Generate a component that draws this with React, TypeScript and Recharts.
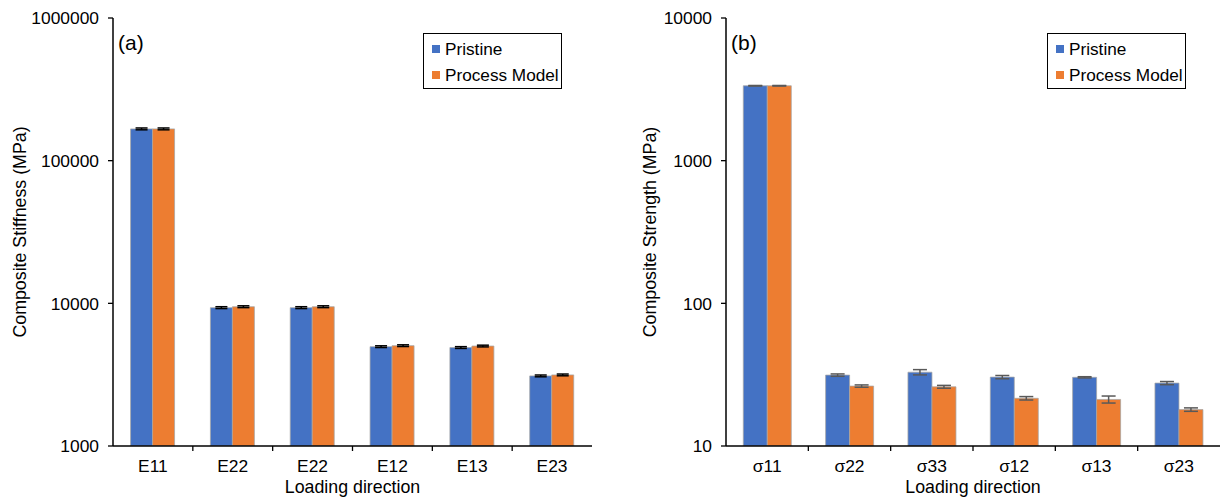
import { Bar, BarChart, ErrorBar, Legend, ReferenceArea, XAxis, YAxis } from "recharts";

// (a) stiffness, MPa
const stiffCats = ["E11", "E22", "E22", "E12", "E13", "E23"];
const stiffPristine = [167000, 9330, 9330, 4970, 4900, 3100];
const stiffPristineErr = [2500, 140, 140, 70, 70, 45];
const stiffProcess = [167000, 9470, 9470, 5050, 5020, 3150];
const stiffProcessErr = [2500, 140, 140, 70, 70, 45];
const stiffTicks = [1000, 10000, 100000, 1000000];

// (b) strength, MPa
const strCats = ["σ11", "σ22", "σ33", "σ12", "σ13", "σ23"];
const strPristine = [3350, 31.4, 32.9, 30.4, 30.3, 27.6];
const strPristineErr = [15, 0.6, 1.4, 0.8, 0.3, 0.7];
const strProcess = [3350, 26.3, 26.0, 21.6, 21.2, 18.0];
const strProcessErr = [15, 0.5, 0.6, 0.6, 1.2, 0.5];
const strTicks = [10, 100, 1000, 10000];

const FONT = "'Liberation Sans', Arial, sans-serif";
const BLUE = "#4472C4";
const ORANGE = "#ED7D31";
const W = 612;
const H = 500;
const TICK_FS = 17.4;
const LABEL_FS = 17.8;

function rowsOf(cats: string[], a: number[], aErr: number[], b: number[], bErr: number[]) {
  return cats.map((c, i) => ({ cat: c, pristine: a[i], pErr: aErr[i], process: b[i], qErr: bErr[i] }));
}

function BandTick(props: any) {
  const { x, y, payload, index, band } = props;
  return (
    <g>
      {index > 0 && (
        <line x1={x - band / 2} x2={x - band / 2} y1={y - 14} y2={y - 9} stroke="#000" strokeWidth={1.3} />
      )}
      <text x={x} y={y} dy="0.71em" textAnchor="middle" fill="#000" fontSize={TICK_FS} fontFamily={FONT}>
        {payload.value}
      </text>
    </g>
  );
}

function LegendBox(props: any) {
  const items = props.payload ?? [];
  return (
    <div
      style={{
        boxSizing: "border-box",
        width: 139,
        height: 56,
        border: "1px solid #000",
        background: "#fff",
        padding: "2px 0 0 8px",
        fontFamily: FONT,
        fontSize: 17.2,
        color: "#000",
      }}
    >
      {items.map((it: any) => (
        <div key={it.value} style={{ height: 26, display: "flex", alignItems: "center" }}>
          <span style={{ width: 8, height: 8, background: it.color, marginRight: 5, display: "inline-block" }} />
          {it.value}
        </div>
      ))}
    </div>
  );
}

interface PanelProps {
  rows: ReturnType<typeof rowsOf>;
  ticks: number[];
  yLabel: string;
  tag: string;
  yAxisWidth: number;
  marginRight: number;
  yLabelX: number;
  legendLeft: number;
  errColor: string;
  errWidth: number;
  gap: string;
}

function Panel({ rows, ticks, yLabel, tag, yAxisWidth, marginRight, yLabelX, legendLeft, errColor, errWidth, gap }: PanelProps) {
  const band = (W - yAxisWidth - marginRight) / rows.length;
  return (
    <div style={{ position: "relative", width: W, height: H }}>
      <BarChart
        width={W}
        height={H}
        data={rows}
        margin={{ top: 18, right: marginRight, left: 0, bottom: 0 }}
        barCategoryGap={gap}
        barGap={0}
      >
        <XAxis
          dataKey="cat"
          height={54}
          axisLine={{ stroke: "#000", strokeWidth: 1.5 }}
          tickLine={{ stroke: "none" }}
          tickSize={5}
          tickMargin={9}
          interval={0}
          tick={<BandTick band={band} />}
          label={{
            value: "Loading direction",
            position: "insideBottom",
            offset: 7,
            fill: "#000",
            fontSize: LABEL_FS,
            fontFamily: FONT,
          }}
        />
        <YAxis
          scale="log"
          type="number"
          domain={[ticks[0], ticks[ticks.length - 1]]}
          ticks={ticks}
          allowDataOverflow
          width={yAxisWidth}
          axisLine={{ stroke: "#000", strokeWidth: 1.5 }}
          tickLine={{ stroke: "#000", strokeWidth: 1.3 }}
          tickSize={5}
          tickMargin={9}
          tick={{ fill: "#000", fontSize: TICK_FS, fontFamily: FONT }}
          label={{
            value: yLabel,
            angle: -90,
            position: "insideLeft",
            offset: yLabelX,
            fill: "#000",
            fontSize: LABEL_FS,
            fontFamily: FONT,
            style: { textAnchor: "middle" },
          }}
        />
        <ReferenceArea fill="none" stroke="#000" strokeWidth={1} ifOverflow="visible" />
        <Bar dataKey="pristine" name="Pristine" fill={BLUE} stroke="#a6a6a6" strokeWidth={0.75} isAnimationActive={false}>
          <ErrorBar dataKey="pErr" width={errWidth} stroke={errColor} strokeWidth={1.5} isAnimationActive={false} />
        </Bar>
        <Bar dataKey="process" name="Process Model" fill={ORANGE} stroke="#a6a6a6" strokeWidth={0.75} isAnimationActive={false}>
          <ErrorBar dataKey="qErr" width={errWidth} stroke={errColor} strokeWidth={1.5} isAnimationActive={false} />
        </Bar>
        <Legend
          layout="vertical"
          align="center"
          verticalAlign="middle"
          wrapperStyle={{ left: legendLeft, top: 33, width: 139 }}
          content={<LegendBox />}
        />
      </BarChart>
      <div
        style={{
          position: "absolute",
          left: yAxisWidth + 5,
          top: 31,
          fontFamily: FONT,
          fontSize: 21,
          lineHeight: "23px",
          color: "#000",
        }}
      >
        {tag}
      </div>
    </div>
  );
}

export default function App() {
  return (
    <div style={{ position: "absolute", left: 0, top: 0, width: 1224, height: 500, display: "flex", background: "#fff" }}>
      <Panel
        rows={rowsOf(stiffCats, stiffPristine, stiffPristineErr, stiffProcess, stiffProcessErr)}
        ticks={stiffTicks}
        yLabel="Composite Stiffness (MPa)"
        tag="(a)"
        yAxisWidth={113}
        marginRight={20}
        yLabelX={19.5}
        legendLeft={423}
        errColor="#000"
        errWidth={6}
        gap="22%"
      />
      <Panel
        rows={rowsOf(strCats, strPristine, strPristineErr, strProcess, strProcessErr)}
        ticks={strTicks}
        yLabel="Composite Strength (MPa)"
        tag="(b)"
        yAxisWidth={114}
        marginRight={4}
        yLabelX={38}
        legendLeft={435}
        errColor="#595959"
        errWidth={7}
        gap="21%"
      />
    </div>
  );
}
